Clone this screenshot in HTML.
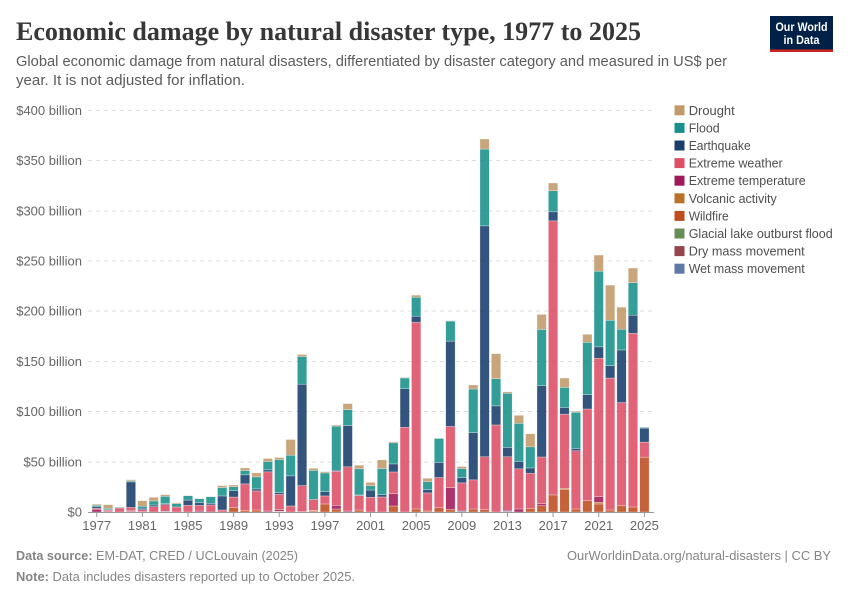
<!DOCTYPE html>
<html lang="en">
<head>
<meta charset="utf-8">
<title>Economic damage by natural disaster type, 1977 to 2025</title>
<style>
html,body{margin:0;padding:0;background:#fff;width:850px;height:600px;overflow:hidden}
svg{display:block}
text{font-family:"Liberation Sans",sans-serif}
</style>
</head>
<body>
<svg id="chart" width="850" height="600" viewBox="0 0 850 600" xmlns="http://www.w3.org/2000/svg">
  <text x="16" y="40" font-size="26" font-weight="700" fill="#373737" textLength="625" lengthAdjust="spacingAndGlyphs" style="font-family:'Liberation Serif',serif">Economic damage by natural disaster type, 1977 to 2025</text>
  <text x="16" y="66" font-size="14.5" fill="#5b5b5b" textLength="711" lengthAdjust="spacingAndGlyphs">Global economic damage from natural disasters, differentiated by disaster category and measured in US$ per</text>
  <text x="16" y="85" font-size="14.5" fill="#5b5b5b" textLength="229" lengthAdjust="spacingAndGlyphs">year. It is not adjusted for inflation.</text>
  <g>
    <rect x="770" y="16" width="63" height="36" fill="#002147"/>
    <rect x="770" y="49.5" width="63" height="2.5" fill="#ce261e"/>
    <text x="801.5" y="31" font-size="12" font-weight="700" fill="#fff" text-anchor="middle" textLength="52" lengthAdjust="spacingAndGlyphs">Our World</text>
    <text x="801.5" y="44" font-size="12" font-weight="700" fill="#fff" text-anchor="middle" textLength="36" lengthAdjust="spacingAndGlyphs">in Data</text>
  </g>
  <g id="grid"></g>
  <g id="ylabels"></g>
  <g id="bars"></g>
  <g id="xaxis"></g>
  <g id="legend"></g>
  <text x="16" y="560" font-size="13" fill="#858585" textLength="282" lengthAdjust="spacingAndGlyphs"><tspan font-weight="700">Data source:</tspan> EM-DAT, CRED / UCLouvain (2025)</text>
  <text x="831" y="560" font-size="13" fill="#858585" text-anchor="end" textLength="264" lengthAdjust="spacingAndGlyphs">OurWorldinData.org/natural-disasters | CC BY</text>
  <text x="16" y="581" font-size="13" fill="#858585" textLength="339" lengthAdjust="spacingAndGlyphs"><tspan font-weight="700">Note:</tspan> Data includes disasters reported up to October 2025.</text>
</svg>
<script>
const firstYear = 1977;
const yearTicks = [1977,1981,1985,1989,1993,1997,2001,2005,2009,2013,2017,2021,2025];
const valueTicks = [0,50,100,150,200,250,300,350,400];
const valueTickLabels = ["$0","$50 billion","$100 billion","$150 billion","$200 billion","$250 billion","$300 billion","$350 billion","$400 billion"];

const wetMass = [0,0,0,0,0,0,0.7,0,0,0,0,0,0,0,0,0,0.3,0,0.3,0,0,0,0,0,0,0,0,0,0,0,0,0,1,0,0,0,0.7,0,0,0,0,0,0,0,0,0,0,0,0];
const dryMass = [0,0,0,0,0,0,0,0,0,0,0,0,0,0,0,0,0,0,0,0,0,0,0,0,0,0,0,0,0,0,0,0,0,0,0,0,0,0,0,0,0,0,0,0,0,0,0,0,0];
const glacial = [0,0,0,0,0,0,0,0,0,0,0,0,0,0,0,0,0,0,0,0,0,0,0,0,0,0,0,0,0,0,0,0,0,0,0,0,0,0,0,0,0,0,0,0,0,0,0,0,0];
const wildfire = [0,0,0,0,0,0,0,0,0,0,0,0,4.3,1.5,2,0,0.5,0,0,1,8,3,0,2,0,0,6,0,3,1,4.3,2.6,0,3,2.3,0,0,0,3.6,6.3,17,22.5,3,11.3,8,2,6.3,5,54.6];
const volcanic = [0,0,0,0.5,0,0,0,0,0,0,0,0,0,0,0,0,0,0,0,0.5,0,0,0,0,0,0,0,0,0,0,0,0,0,0,0,0,0,0,0,0,0,1,0,0,1.6,0,0,0,0];
const extremeTemp = [2.7,0.3,0,1,0.3,0,0,0,0,1,0,0,0,0,0,1,1.5,0,0,0,0,3.6,1,0,0,0,12.3,0,0,0,0,21.6,0,0,0,0,1,3,0,2,0,0,0,0,5.6,0,0,0,0];
const extremeWeather = [1,1.5,4,3,2,5.3,6.6,5,6.6,5.6,7,2,10.6,26.5,19,39,15.3,6,26,11,8,34,44,14.3,14.6,15,21.6,84.4,186,18,30,61,28,29,52.7,86.7,53.3,40,35,46.5,273,74,58,91.3,138,131.4,102.7,173,15];
const earthquake = [1.5,0.6,0,25.5,1.5,1.7,1,0,5.3,2.6,1.6,14,6.3,9,2,2,1.7,30,101,0,4.3,1,41,0.7,7.3,2.3,8,38.5,6,3.3,15,85,5.3,47,230,19,9.3,7.3,5.3,71,9,6.6,2.3,14.2,11.3,12.3,52.4,18,14];
const flood = [1.5,1.2,0.7,1,2,4,7.3,3.3,4.3,4,6.6,8.3,4,4.3,12,8.3,33,20.6,27.6,29,18.6,44,16,26,4.3,26,21,10.6,19,8,24,20,9,43.5,76.5,27,54,38,21,56,21,20,36,52.2,75.4,45.3,20.6,32.4,0.7];
const drought = [1,3.7,0.3,1.2,5.5,3.6,1.7,1,0.4,0.4,0.3,2,1.7,2.6,4,3,2,15.6,2,2,1.3,1,6,3.6,3.3,8.6,1,0.6,2,3.3,0.3,0.5,2,4,10,25,1.3,8,13,15,7.7,9.3,1,8,16,35,22,14.6,0];

const seriesNames = ["Wet mass movement","Dry mass movement","Glacial lake outburst flood","Wildfire","Volcanic activity","Extreme temperature","Extreme weather","Earthquake","Flood","Drought"];
const seriesValues = [wetMass,dryMass,glacial,wildfire,volcanic,extremeTemp,extremeWeather,earthquake,flood,drought];
const seriesColors = ["#4C6A9C","#883039","#578145","#B83A08","#B16214","#970046","#DA3C55","#00295B","#00847E","#BC8E5A"];

const NS = "http://www.w3.org/2000/svg";
const xBase = 96.7, xStep = 11.41, barW = 9.4;
const yBase = 512, yScale = 1.004;
function xScale(year){ return xBase + (year - firstYear) * xStep; }
function yPos(value){ return yBase - value * yScale; }
function slug(s){ return s.toLowerCase().replace(/[^a-z0-9]+/g,"-"); }
function make(tag, attrs, parent){
  const el = document.createElementNS(NS, tag);
  for (const k in attrs) el.setAttribute(k, attrs[k]);
  parent.appendChild(el);
  return el;
}

const grid = document.getElementById("grid");
const ylabels = document.getElementById("ylabels");
valueTicks.forEach(function(v, i){
  if (v > 0) {
    const line = make("line", {x1:88, x2:654, y1:yPos(v), y2:yPos(v), stroke:"#dddddd", "stroke-dasharray":"4,4", "stroke-width":1, "shape-rendering":"crispEdges"}, grid);
    
    
  }
  const t = make("text", {x:82, y:yPos(v)+4.5, "font-size":13, fill:"#666666", "text-anchor":"end"}, ylabels);
  t.textContent = valueTickLabels[i];
  
  
});

const bars = document.getElementById("bars");
extremeWeather.forEach(function(_, yi){
  const year = firstYear + yi;
  let acc = 0;
  seriesValues.forEach(function(values, si){
    const v = values[yi];
    if (v > 0) {
      const r = make("rect", {x:xScale(year)-barW/2, y:yPos(acc+v), width:barW, height:v*yScale, fill:seriesColors[si], "fill-opacity":0.8, stroke:"#ffffff", "stroke-width":0.5, "stroke-opacity":0.6}, bars);
      
      
      acc += v;
    }
  });
});

const xaxis = document.getElementById("xaxis");
const axisLine = make("line", {x1:88, x2:654, y1:yBase+0.5, y2:yBase+0.5, stroke:"#999999", "stroke-width":1}, xaxis);


yearTicks.forEach(function(year){
  const tick = make("line", {x1:xScale(year), x2:xScale(year), y1:yBase, y2:yBase+5, stroke:"#999999", "stroke-width":1}, xaxis);
  
  
  const t = make("text", {x:xScale(year), y:530, "font-size":13, fill:"#666666", "text-anchor":"middle"}, xaxis);
  t.textContent = year;
  
  
});

const legend = document.getElementById("legend");
const legendWidths = [46,31,62,94,117,88,40,144,116,116];
seriesNames.slice().reverse().forEach(function(name, i){
  const color = seriesColors[seriesNames.length - 1 - i];
  const y = 105.3 + i * 17.6;
  const sw = make("rect", {x:674.5, y:y, width:10, height:10, fill:color, "fill-opacity":0.9}, legend);
  
  
  const t = make("text", {x:688.7, y:y+9.5, "font-size":13, fill:"#4e4e4e", textLength:legendWidths[i], lengthAdjust:"spacingAndGlyphs"}, legend);
  t.textContent = name;
  
  
});
</script>
</body>
</html>
